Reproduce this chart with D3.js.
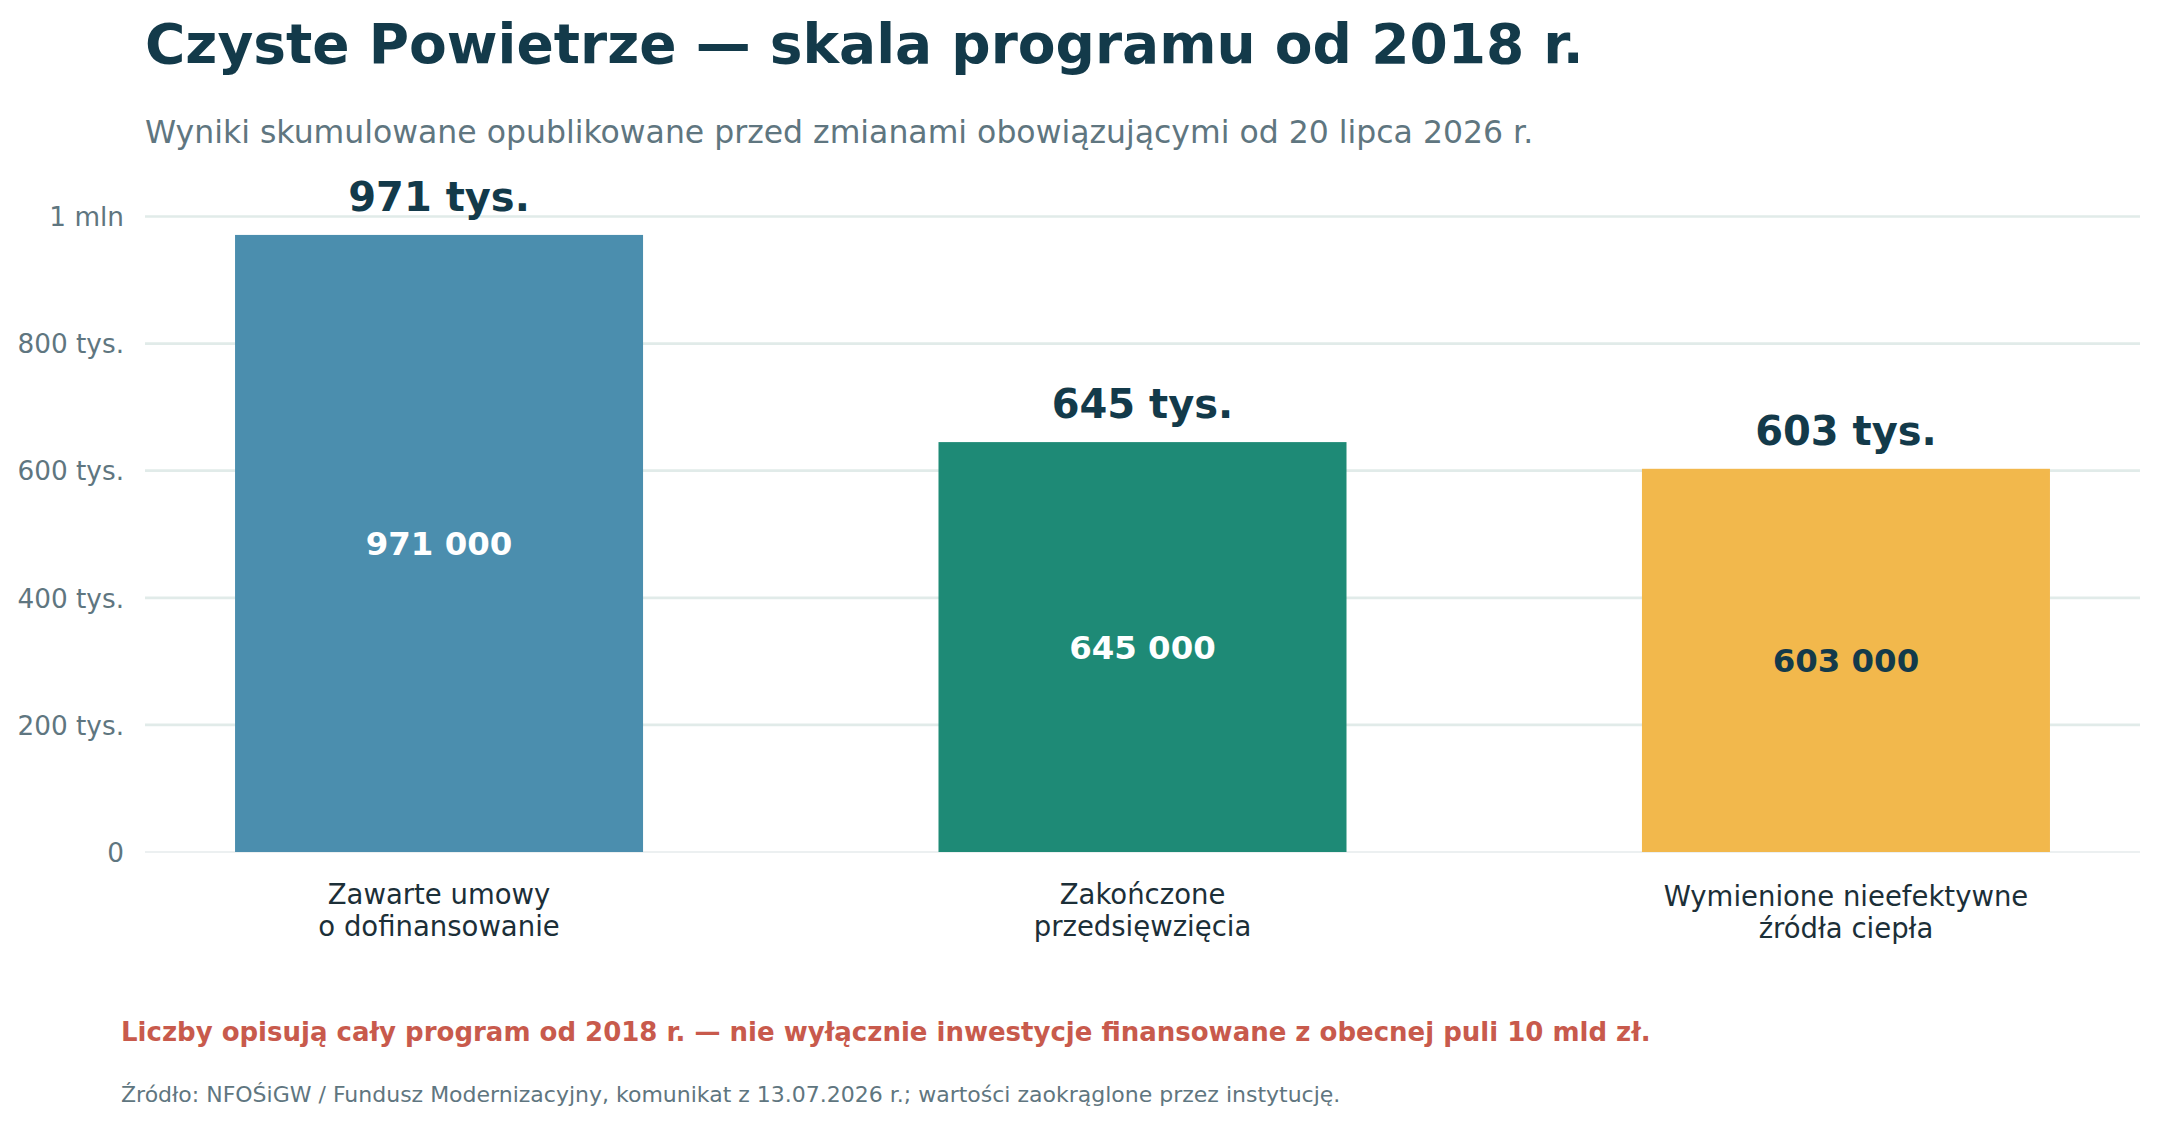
<!DOCTYPE html>
<html><head><meta charset="utf-8">
<script src="https://cdn.jsdelivr.net/npm/d3@7"></script>
<style>
html,body{margin:0;padding:0;background:#fff;}
svg{display:block;font-family:"DejaVu Sans",sans-serif;}
</style></head>
<body>
<svg id="chart" width="2158" height="1124"></svg>
<script>
const categories = [["Zawarte umowy","o dofinansowanie"],["Zakończone","przedsięwzięcia"],["Wymienione nieefektywne","źródła ciepła"]];
const values = [971000, 645000, 603000];
const topLabels = ["971 tys.", "645 tys.", "603 tys."];
const innerLabels = ["971 000", "645 000", "603 000"];
const barColors = ["#4b8eae", "#1e8a76", "#f2b84c"];
const innerColors = ["#ffffff", "#ffffff", "#133a4a"];
const yTicks = [0, 200000, 400000, 600000, 800000, 1000000];
const yTickLabels = ["0", "200 tys.", "400 tys.", "600 tys.", "800 tys.", "1 mln"];

const svg = d3.select("#chart");
const left = 145, right = 2140, y0 = 852, y1 = 216.5;

const x = d3.scaleBand().domain(d3.range(values.length)).range([left, right]).paddingInner(0.42).paddingOuter(0.128);
const y = d3.scaleLinear().domain([0, 1000000]).range([y0, y1]);

// title
svg.append("text").attr("x", 145).attr("y", 63).attr("font-size", 55).attr("font-weight", "bold").attr("fill", "#133a4a")
  .text("Czyste Powietrze — skala programu od 2018 r.");
svg.append("text").attr("x", 145).attr("y", 143).attr("font-size", 31.5).attr("fill", "#5f7680")
  .text("Wyniki skumulowane opublikowane przed zmianami obowiązującymi od 20 lipca 2026 r.");

// gridlines
const grid = svg.append("g");
grid.selectAll("line").data(yTicks.filter(d => d > 0)).join("line")
  .attr("x1", left).attr("x2", right).attr("y1", d => y(d)).attr("y2", d => y(d))
  .attr("stroke", "#e1ebe9").attr("stroke-width", 2.7);
grid.append("line").attr("x1", left).attr("x2", right).attr("y1", y(0)).attr("y2", y(0))
  .attr("stroke", "#e6ebec").attr("stroke-width", 1.5);

// y axis
const yAxis = d3.axisLeft(y).tickValues(yTicks).tickFormat((d, i) => yTickLabels[i]).tickSize(0).tickPadding(21);
const ya = svg.append("g").attr("transform", `translate(${left},0)`).call(yAxis);
ya.select(".domain").remove();
ya.selectAll("text").attr("font-size", 26.3).attr("fill", "#5f7680").attr("font-family", "DejaVu Sans").attr("dy", "0.35em");

// bars
svg.append("g").selectAll("rect").data(values).join("rect")
  .attr("x", (d, i) => x(i)).attr("width", x.bandwidth())
  .attr("y", d => y(d)).attr("height", d => y(0) - y(d))
  .attr("fill", (d, i) => barColors[i]);

// top labels
svg.append("g").selectAll("text").data(values).join("text")
  .attr("x", (d, i) => x(i) + x.bandwidth() / 2).attr("y", d => y(d) - 24)
  .attr("text-anchor", "middle").attr("font-size", 40).attr("font-weight", "bold").attr("fill", "#133a4a")
  .text((d, i) => topLabels[i]);

// inner labels
svg.append("g").selectAll("text").data(values).join("text")
  .attr("x", (d, i) => x(i) + x.bandwidth() / 2).attr("y", d => (y(d) + y(0)) / 2 + 12)
  .attr("text-anchor", "middle").attr("font-size", 32.4).attr("font-weight", "bold").attr("fill", (d, i) => innerColors[i])
  .text((d, i) => innerLabels[i]);

// x labels
const xl = svg.append("g").selectAll("text").data(categories).join("text")
  .attr("x", (d, i) => x(i) + x.bandwidth() / 2).attr("y", (d, i) => i === 2 ? 906 : 904)
  .attr("text-anchor", "middle").attr("font-size", 27.5).attr("fill", "#1c2f38");
xl.selectAll("tspan").data(d => d).join("tspan")
  .attr("x", function() { return this.parentNode.getAttribute("x"); })
  .attr("dy", (d, i) => i === 0 ? 0 : 32).text(d => d);

// footnotes
svg.append("text").attr("x", 121).attr("y", 1041).attr("font-size", 26).attr("font-weight", "bold").attr("fill", "#c85a4c")
  .text("Liczby opisują cały program od 2018 r. — nie wyłącznie inwestycje finansowane z obecnej puli 10 mld zł.");
svg.append("text").attr("x", 121).attr("y", 1102).attr("font-size", 22).attr("fill", "#5f7680")
  .text("Źródło: NFOŚiGW / Fundusz Modernizacyjny, komunikat z 13.07.2026 r.; wartości zaokrąglone przez instytucję.");
</script>
</body></html>
